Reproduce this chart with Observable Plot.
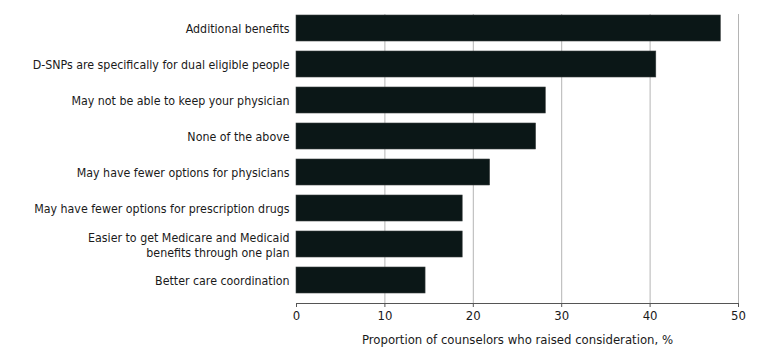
<!DOCTYPE html>
<html>
<head>
<meta charset="utf-8">
<script src="https://cdn.jsdelivr.net/npm/d3@7"></script>
<script src="https://cdn.jsdelivr.net/npm/@observablehq/plot@0.6"></script>
<style>
  html, body { margin: 0; padding: 0; background: #fff; }
  #chart svg { display: block; }
</style>
</head>
<body>
<div id="chart"></div>
<script>
const categories = [
  "Additional benefits",
  "D-SNPs are specifically for dual eligible people",
  "May not be able to keep your physician",
  "None of the above",
  "May have fewer options for physicians",
  "May have fewer options for prescription drugs",
  "Easier to get Medicare and Medicaid\nbenefits through one plan",
  "Better care coordination"
];
const values = [48.0, 40.7, 28.2, 27.1, 21.9, 18.8, 18.8, 14.6];
const xTicks = [0, 10, 20, 30, 40, 50];
const xLabel = "Proportion of counselors who raised consideration, %";

const data = categories.map((c, i) => ({category: c, value: values[i]}));
const font = "'Liberation Sans Narrow', 'DejaVu Sans Condensed', 'Roboto Condensed', sans-serif";

const chart = Plot.plot({
  width: 780,
  height: 357,
  marginTop: 14,
  marginBottom: 54,
  marginLeft: 296,
  marginRight: 42,
  style: {fontFamily: font, fontSize: "12.3px", color: "#1a1a1a", background: "#fff"},
  x: {domain: [0, 50], ticks: xTicks},
  y: {domain: categories, paddingInner: 0.265, paddingOuter: 0, insetBottom: 8},
  marks: [
    Plot.gridX(xTicks.slice(1), {stroke: "#b4b4b4", strokeOpacity: 1, strokeWidth: 1}),
    Plot.barX(data, {x: "value", y: "category", fill: "#0b1717", stroke: "#3a3f3f", strokeWidth: 0.6}),
    Plot.axisY({tickSize: 0, tickPadding: 7, label: null, fontSize: 12.3, lineHeight: 1.2}),
    Plot.frame({anchor: "bottom", stroke: "#555"}),
    Plot.axisX({ticks: xTicks, tickSize: 4, tickPadding: 3, stroke: "#555", fontSize: 13,
      label: xLabel, labelAnchor: "center", labelArrow: "none", labelOffset: 40})
  ]
});
document.getElementById("chart").appendChild(chart);
</script>
</body>
</html>
